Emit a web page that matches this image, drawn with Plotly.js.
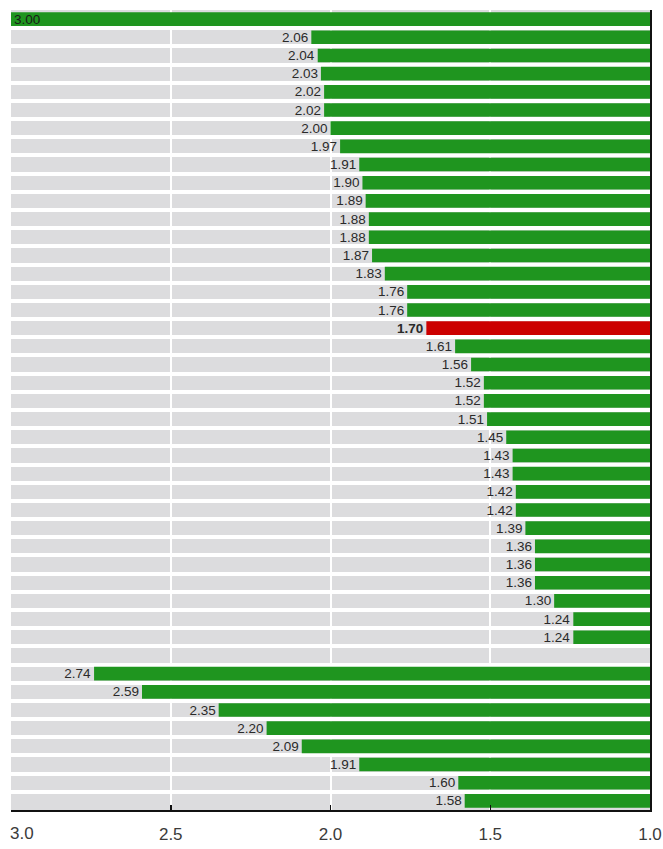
<!DOCTYPE html>
<html>
<head>
<meta charset="utf-8">
<script src="https://cdn.plot.ly/plotly-3.0.1.min.js"></script>
<style>
  html, body { margin: 0; padding: 0; background: #fff; }
  #plot { width: 663px; height: 849px; }
</style>
</head>
<body>
<div id="plot"></div>
<script>
// first block of rows (top), highlighted row is 1.70
var groupA = [3.00, 2.06, 2.04, 2.03, 2.02, 2.02, 2.00, 1.97, 1.91, 1.90, 1.89, 1.88, 1.88, 1.87,
              1.83, 1.76, 1.76, 1.70, 1.61, 1.56, 1.52, 1.52, 1.51, 1.45, 1.43, 1.43, 1.42, 1.42,
              1.39, 1.36, 1.36, 1.36, 1.30, 1.24, 1.24];
// second block of rows (below the empty row)
var groupB = [2.74, 2.59, 2.35, 2.20, 2.09, 1.91, 1.60, 1.58];

// x axis ticks (the leftmost label is drawn as an annotation so it is not cut off)
var tickVals = [3, 2.5, 2, 1.5, 1];
var tickText = ["", "2.5", "2.0", "1.5", "1.0"];
var leftTick = "3.0";

var namesA = groupA.map((v, i) => "A" + (i + 1));
var namesB = groupB.map((v, i) => "B" + (i + 1));
var gapName = "gap";
var highlightA = 17;

var green = "#1f951f";
var red = "#cc0000";
var labelFont = {family: "Liberation Sans, Arial, sans-serif", size: 13.5, color: "#2a2a2a"};
var tickFont = {family: "Liberation Sans, Arial, sans-serif", size: 17, color: "#3a3a3a"};

function labels(vals, hi) {
    return vals.map((v, i) => i === hi ? "<b>" + v.toFixed(2) + "</b>" : v.toFixed(2));
}

var traceA = {
    type: "bar",
    orientation: "h",
    y: namesA,
    x: groupA,
    width: 0.75,
    text: labels(groupA, highlightA),
    textposition: groupA.map((v, i) => i === 0 ? "inside" : "outside"),
    insidetextanchor: "end",
    constraintext: "none",
    cliponaxis: false,
    textfont: labelFont,
    insidetextfont: {family: labelFont.family, size: 13.5, color: "#1a1a1a"},
    outsidetextfont: labelFont,
    marker: {
        color: groupA.map((v, i) => i === highlightA ? red : green),
        line: {width: 0}
    },
    hoverinfo: "x",
    showlegend: false
};

var traceB = {
    type: "bar",
    orientation: "h",
    y: namesB,
    x: groupB,
    width: 0.75,
    text: labels(groupB, -1),
    textposition: "outside",
    constraintext: "none",
    cliponaxis: false,
    textfont: labelFont,
    marker: {color: green, line: {width: 0}},
    hoverinfo: "x",
    showlegend: false
};

var layout = {
    width: 663,
    height: 849,
    margin: {l: 11, r: 13, t: 10, b: 39},
    paper_bgcolor: "#ffffff",
    plot_bgcolor: "#dcdcde",
    barmode: "overlay",
    font: {family: "Liberation Sans, Arial, sans-serif", color: "#333"},
    xaxis: {
        range: [3, 1],
        tickmode: "array",
        tickvals: tickVals,
        ticktext: tickText,
        showgrid: true,
        gridcolor: "#ffffff",
        gridwidth: 2,
        zeroline: false,
        showline: true,
        linecolor: "#111",
        linewidth: 2,
        ticks: "inside",
        ticklen: 5,
        tickwidth: 1.5,
        tickcolor: "#111",
        ticklabelstandoff: 8,
        tickfont: tickFont,
        fixedrange: true
    },
    yaxis: {
        type: "category",
        categoryorder: "array",
        categoryarray: namesA.concat([gapName], namesB),
        range: [namesA.length + namesB.length + 0.5, -0.5],
        tickson: "boundaries",
        showgrid: true,
        gridcolor: "#ffffff",
        gridwidth: 4,
        showticklabels: false,
        ticks: "",
        side: "right",
        showline: true,
        linecolor: "#111",
        linewidth: 2,
        zeroline: false,
        fixedrange: true
    },
    annotations: [{
        xref: "x", yref: "paper",
        x: tickVals[0], y: 0,
        xanchor: "left", yanchor: "top",
        xshift: -3, yshift: -12,
        showarrow: false,
        text: leftTick,
        font: tickFont
    }]
};

Plotly.newPlot("plot", [traceA, traceB], layout, {displayModeBar: false, staticPlot: true});
</script>
</body>
</html>
